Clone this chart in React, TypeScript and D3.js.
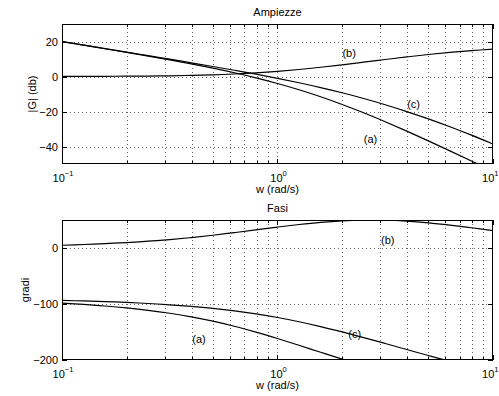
import React from 'react';
import * as d3 from 'd3';

// angular frequencies (rad/s), 10 points per decade
const freqs = [0.1, 0.1259, 0.1585, 0.1995, 0.2512, 0.3162, 0.3981, 0.5012, 0.631, 0.7943, 1, 1.2589, 1.5849, 1.9953, 2.5119, 3.1623, 3.9811, 5.0119, 6.3096, 7.9433, 10];

// magnitudes (dB)
const magA = [19.95, 17.92, 15.87, 13.79, 11.67, 9.48, 7.19, 4.76, 2.13, -0.76, -3.98, -7.58, -11.57, -15.97, -20.75, -25.86, -31.22, -36.79, -42.5, -48.31, -54.19];
const magB = [0.04, 0.07, 0.11, 0.17, 0.26, 0.41, 0.63, 0.95, 1.42, 2.08, 2.93, 4.0, 5.27, 6.68, 8.18, 9.7, 11.19, 12.57, 13.78, 14.8, 15.61];
const magC = [19.99, 17.98, 15.97, 13.95, 11.93, 9.89, 7.82, 5.72, 3.56, 1.32, -1.05, -3.57, -6.31, -9.3, -12.57, -16.15, -20.04, -24.22, -28.72, -33.51, -38.59];

// phases (degrees)
const phA = [-98.57, -100.78, -103.54, -106.98, -111.26, -116.53, -122.97, -130.69, -139.76, -150.12, -161.57, -173.73, -186.14, -198.31, -209.77, -220.14, -229.23, -236.96, -243.41, -248.69, -252.98];
const phB = [4.95, 6.21, 7.8, 9.76, 12.18, 15.13, 18.67, 22.8, 27.44, 32.42, 37.41, 42.01, 45.82, 48.48, 49.78, 49.59, 47.94, 44.96, 40.92, 36.18, 31.16];
const phC = [-93.63, -94.56, -95.74, -97.22, -99.08, -101.4, -104.3, -107.89, -112.32, -117.71, -124.16, -131.72, -140.33, -149.83, -159.99, -170.55, -181.29, -192.0, -202.49, -212.51, -221.82];

const seriesNames = ['(a)', '(b)', '(c)'];
const magTicks = [20, 0, -20, -40];
const phaseTicks = [0, -100, -200];
const decadeExponents = [-1, 0, 1];
const minorMultipliers = [2, 3, 4, 5, 6, 7, 8, 9];

// curve label anchors in data coordinates: [w, value]
const magLabelPos = [[2.7, -35.7], [2.15, 13.7], [4.28, -15.7]];
const phaseLabelPos = [[0.432, -162.5], [3.25, 13.4], [2.28, -153.6]];

const FONT = '"Liberation Sans", Arial, Helvetica, sans-serif';

export default function App() {
  const W = 499, H = 396;
  const left = 62, right = 493;
  const x = d3.scaleLog().domain([0.1, 10]).range([left, right]);
  const majors = decadeExponents.map((e) => Math.pow(10, e));
  const minors: number[] = [];
  [0.1, 1].forEach((d) => minorMultipliers.forEach((m) => minors.push(d * m)));

  const panels = [
    { key: 'mag', title: 'Ampiezze', ylabel: '|G| (db)', top: 24, bottom: 164, domain: [-50, 30], ticks: magTicks, series: [magA, magB, magC], labels: magLabelPos, ylabelX: 35.5 },
    { key: 'ph', title: 'Fasi', ylabel: 'gradi', top: 220, bottom: 360, domain: [-200, 50], ticks: phaseTicks, series: [phA, phB, phC], labels: phaseLabelPos, ylabelX: 28.5 },
  ];

  const fmt = (v: number) => (v < 0 ? '\u2212' + Math.abs(v) : String(v));

  return (
    <svg width={W} height={H} viewBox={`0 0 ${W} ${H}`} style={{ position: 'absolute', left: 0, top: 0, background: '#fff' }} fontFamily={FONT}>
      <rect x={0} y={0} width={W} height={H} fill="#fff" />
      {panels.map((p) => {
        const y = d3.scaleLinear().domain(p.domain).range([p.bottom, p.top]);
        const line = d3
          .line<number>()
          .x((_, i) => x(freqs[i]))
          .y((v) => y(v))
          .curve(d3.curveCatmullRom.alpha(0.5));
        const clipId = 'clip-' + p.key;
        const gridX = [...minors, 1].filter((v) => v > 0.1 && v < 10);
        const gridY = p.ticks.filter((t) => t > p.domain[0] && t < p.domain[1]);
        return (
          <g key={p.key}>
            <defs>
              <clipPath id={clipId}>
                <rect x={left} y={p.top} width={right - left} height={p.bottom - p.top} />
              </clipPath>
            </defs>
            {/* grid */}
            <g stroke="#666" strokeWidth={1} strokeDasharray="1 3" fill="none">
              {gridX.map((v) => (
                <line key={'gx' + v} x1={Math.round(x(v)) + 0.5} x2={Math.round(x(v)) + 0.5} y1={p.top} y2={p.bottom} />
              ))}
              {gridY.map((t) => (
                <line key={'gy' + t} x1={left} x2={right} y1={Math.round(y(t)) + 0.5} y2={Math.round(y(t)) + 0.5} />
              ))}
            </g>
            {/* curves */}
            <g clipPath={`url(#${clipId})`} fill="none" stroke="#000" strokeWidth={1.2}>
              {p.series.map((s, i) => (
                <path key={i} d={line(s) || ''} />
              ))}
            </g>
            {/* frame */}
            <rect x={left + 0.5} y={p.top + 0.5} width={right - left - 1} height={p.bottom - p.top - 1} fill="none" stroke="#000" strokeWidth={1} />
            {/* ticks */}
            <g stroke="#000" strokeWidth={1}>
              {majors.map((v) => {
                const xx = Math.round(x(v)) + 0.5;
                return (
                  <g key={'mt' + v}>
                    <line x1={xx} x2={xx} y1={p.bottom} y2={p.bottom - 5} />
                    <line x1={xx} x2={xx} y1={p.top} y2={p.top + 5} />
                  </g>
                );
              })}
              {minors.map((v) => {
                const xx = Math.round(x(v)) + 0.5;
                return (
                  <g key={'nt' + v}>
                    <line x1={xx} x2={xx} y1={p.bottom} y2={p.bottom - 3} />
                    <line x1={xx} x2={xx} y1={p.top} y2={p.top + 3} />
                  </g>
                );
              })}
              {p.ticks.map((t) => {
                const yy = Math.round(y(t)) + 0.5;
                return (
                  <g key={'yt' + t}>
                    <line x1={left} x2={left + 5} y1={yy} y2={yy} />
                    <line x1={right} x2={right - 5} y1={yy} y2={yy} />
                  </g>
                );
              })}
            </g>
            {/* y tick labels */}
            {p.ticks.map((t) => (
              <text key={'yl' + t} x={left - 4} y={y(t)} textAnchor="end" dominantBaseline="central" fontSize={11}>
                {fmt(t)}
              </text>
            ))}
            {/* x tick labels */}
            {decadeExponents.map((e, i) => {
              const last = i === decadeExponents.length - 1;
              return (
                <text
                  key={'xl' + e}
                  x={last ? W - 0.5 : x(Math.pow(10, e)) + 1}
                  y={p.bottom + 18}
                  textAnchor={last ? 'end' : 'middle'}
                  fontSize={11}
                >
                  10
                  <tspan fontSize={7.5} dy={-6.5}>
                    {fmt(e)}
                  </tspan>
                </text>
              );
            })}
            {/* axis labels & title */}
            <text x={(left + right) / 2} y={p.bottom + 29} textAnchor="middle" fontSize={11}>
              w (rad/s)
            </text>
            <text x={(left + right) / 2} y={p.top - 8.5} textAnchor="middle" fontSize={11}>
              {p.title}
            </text>
            <text transform={`translate(${p.ylabelX},${(p.top + p.bottom) / 2}) rotate(-90)`} textAnchor="middle" fontSize={11}>
              {p.ylabel}
            </text>
            {/* curve labels */}
            {p.labels.map((pos, i) => (
              <text key={'cl' + i} x={x(pos[0])} y={y(pos[1])} textAnchor="middle" dominantBaseline="central" fontSize={11}>
                {seriesNames[i]}
              </text>
            ))}
          </g>
        );
      })}
    </svg>
  );
}
